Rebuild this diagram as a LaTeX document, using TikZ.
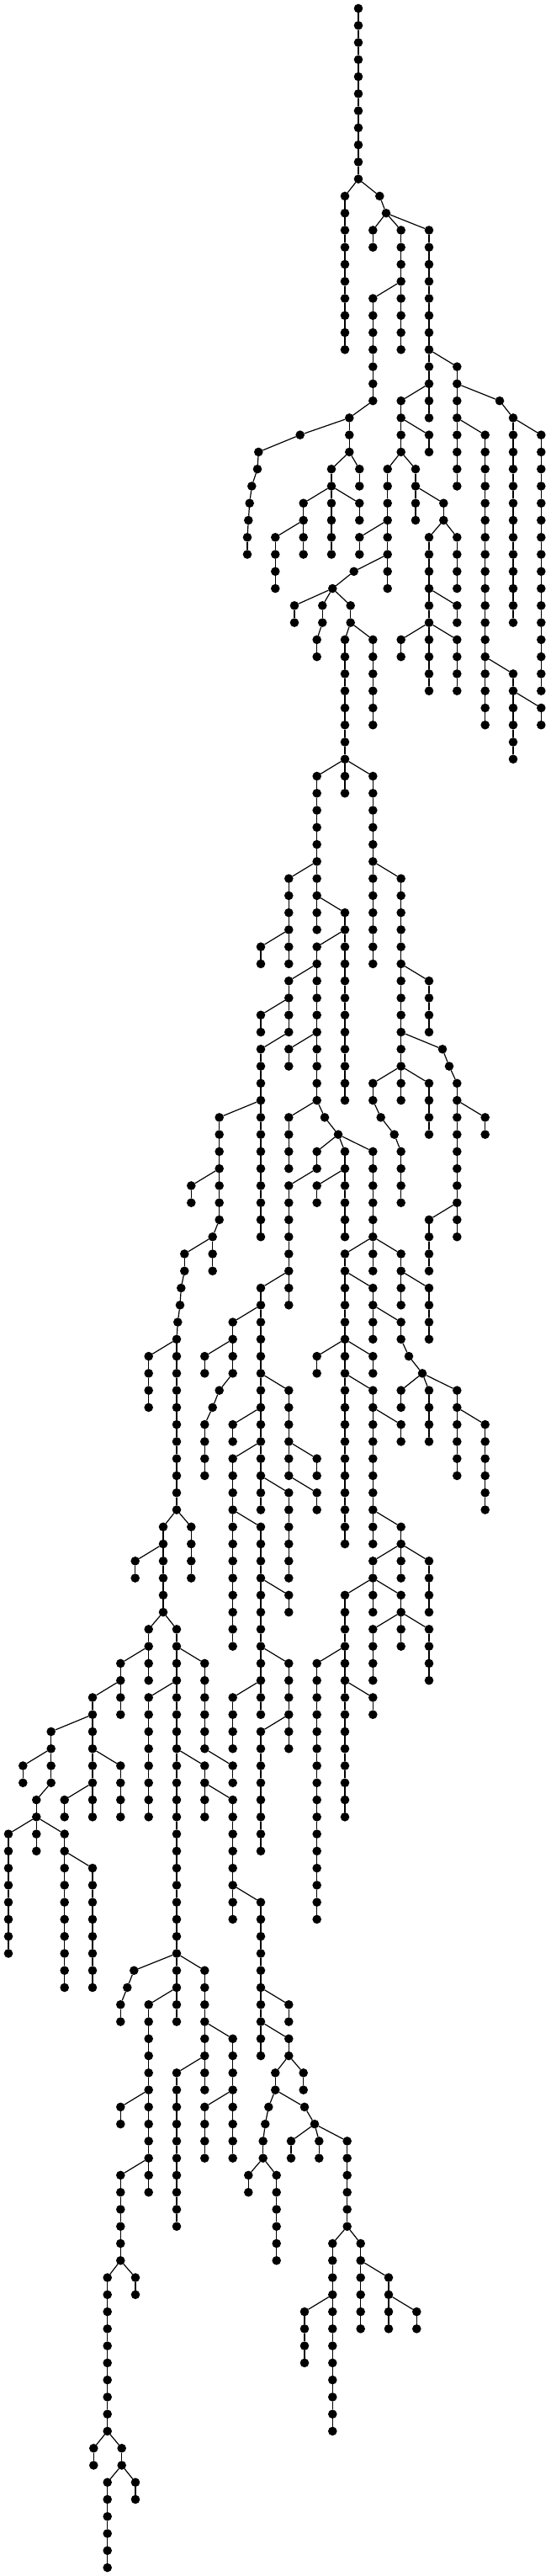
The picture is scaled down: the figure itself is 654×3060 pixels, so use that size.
\documentclass[tikz,border=0pt]{standalone}
\tikzset{
  vertex/.style={circle,fill=black,draw=none,inner sep=0pt,outer sep=0pt,minimum size=5.3pt},
  treeedge/.style={line width=0.6pt,black}
}
\begin{document}
\begin{tikzpicture}[x=0.5pt,y=-0.5pt]
    \useasboundingbox (0,0) rectangle (654,3060);
    \node[vertex] (a-0) at (426,10) {};
    % parent / branch / x / first row / last row
    \foreach \parent/\branch/\px/\rowa/\rowb in {
        a-0/a/426/1/10, a-10/b/410/11/20, a-10/c/451.3/11/11, c-11/d/459/12/12,
        d-12/e/443.3/13/14, d-12/f/476.7/13/20, d-12/g/510/13/24, f-16/h/443.3/17/23,
        g-20/i/543.3/21/28, h-23/k/415.3/24/26, k-24/l/356.7/25/25,
        l-25/m1/307.3/26/26, m1-26/m2/306/27/27, m2-27/m3/299.3/28/28, m3-28/m4/296.7/29/29,
        m4-29/m5/295.3/30/30, m5-30/m6/294/31/32,
        k-26/n/394/27/32, k-26/o/427.3/27/28, n-28/p/360.7/29/32, n-28/q/427.3/29/30,
        p-30/r/327.3/31/34, g-22/s/476.7/23/26, s-24/t/510/25/26, s-26/u/460.7/27/34,
        u-30/v/427.3/31/32, u-32/w/420.7/33/33, w-33/x/395.3/34/34, x-34/y/350/35/36,
        x-34/z/383.3/35/36, z-36/aa/376.7/37/38, x-34/ab/416.7/35/36, ab-36/ac/410/37/46,
        ab-36/ad/443.3/37/42, s-26/ae/494/27/30, ae-28/af/527.3/29/30, af-30/ag/510/31/40,
        af-30/ah/543.3/31/34, ag-34/ai/543.3/35/36, ag-36/aj/476.7/37/38, ag-36/ak/543.3/37/40,
        i-22/al/594/23/23, al-23/am/610/24/36, i-24/an/576.7/25/42, am-24/ao/643.3/25/40,
        an-38/ap/610/39/44, ap-40/aq/643.3/41/42,
        ac-44/ar/376.7/45/54, ac-44/as/443.3/45/56, ar-50/at/343.3/51/56, at-54/au/310/55/56,
        ar-52/av/410/53/64, av-54/aw/376.7/55/64, aw-56/ax/343.3/57/60, ax-58/ay/310/59/60,
        ax-60/az/310/61/72, aw-60/ba/343.3/61/62, as-50/bb/476.7/51/62, bb-56/bc/510/57/60,
        bb-60/bd/526/61/61, bd-61/be/534/62/62, be-62/bf/543.3/63/72, bf-64/bg/576.7/65/66,
        bb-62/bh/443.3/63/64, bh-64/bi/452.7/65/65, bi-65/bj/468.7/66/66, bj-66/bk/476.7/67/70,
        bb-62/bl/476.7/63/64, bb-62/bm/510/63/66, bf-70/bn/510/71/74,
        az-64/bo/260.7/65/71, bo-68/bp/227.3/69/70, bo-71/bq/252.7/72/74, bq-72/br/219.3/73/74,
        br-74/bs/215.3/75/75, bs-75/bt/214/76/76, bt-76/bu/211.3/77/77, bu-77/bv/210/78/88,
        bv-78/bw/176.7/79/82, aw-64/bx/343.3/65/68, aw-64/by/386/65/65, by-65/bz/402/66/66,
        bz-66/ca/376.7/67/68, ca-68/cb/343.3/69/76, cb-74/cc/310/75/88, cc-76/cd/276.7/77/80,
        cd-78/ce/243.3/79/80, cd-80/cf/260.7/81/81, cf-81/cg/252.7/82/82, cg-82/ch/243.3/83/86,
        cc-80/ci/343.3/81/86, cc-82/cj/276.7/83/84, cc-84/ck/276.7/85/96, cc-86/cl/343.3/87/92,
        ci-84/cm/376.7/85/86, ci-86/cn/376.7/87/88, bz-66/co/410/67/72, co-68/cp/376.7/69/70,
        bz-66/cq/443.3/67/74, cq-72/cr/410/73/90, cq-72/cs/476.7/73/76, cs-74/ct/510/75/78,
        cr-74/cu/443.3/75/78, cu-76/cv/476.7/77/78, cv-78/cw/486/79/79, cw-79/cx/502/80/80,
        cx-80/cy/476.7/81/82, cx-80/cz/510/81/84, cx-80/da/543.3/81/86, da-82/db/576.7/83/88,
        cr-78/dc/376.7/79/80, cr-78/dd/443.3/79/80, cr-80/de/443.3/81/90, de-82/df/476.7/83/84,
        de-88/dg/476.7/89/90, dg-90/dh/443.3/91/92, dg-90/di/476.7/91/92, dg-90/dj/510/91/94,
        dh-92/dk/410/93/106, dh-92/dl/443.3/93/94, dh-92/dm/476.7/93/94, dm-94/dn/443.3/95/98,
        dm-94/dno/476.7/95/96, dm-94/dp/510/95/98, dk-96/dq/376.7/97/112, dk-98/dr/443.3/99/100,
        bv-88/ds/194/89/94, bv-88/dt/227.3/89/92, ds-90/du/160.7/91/92, ds-94/dv/176.7/95/98,
        ds-94/dw/210/95/118, dv-96/dx/143.3/97/100, dx-98/dy/110/99/106, dy-100/dz/60.7/101/104,
        dz-102/ea/27.3/103/104, dz-104/eb/43.3/105/106, eb-106/ec/10/107/114, eb-106/ed/43.3/107/108,
        eb-106/ee/76.7/107/116, ee-108/ef/110/109/116, dy-102/eg/143.3/103/106, dy-104/eh/76.7/105/106,
        dw-96/ei/243.3/97/102, dw-98/ej/176.7/99/106, dw-102/ek/243.3/103/106, ei-102/el/276.7/103/104,
        ek-104/em/276.7/105/112, em-110/en/310/111/120,
        dw-114/eo/159.3/115/115, eo-115/ep/151.3/116/116, ep-116/eq/143.3/117/118, dw-114/er/243.3/115/122,
        dw-116/es/176.7/117/128, es-122/et/143.3/123/124, es-126/eu/143.3/127/132, er-118/ev/276.7/119/126,
        er-120/ew/210/121/130, ev-122/ex/243.3/123/126, eu-132/ey/127.7/133/142, eu-132/ez/161/133/134,
        ey-142/fa/111.3/143/144, ey-142/fb/144.7/143/144, fb-144/fc/127.7/145/150, fb-144/fd/161/145/146,
        en-116/fe/343.3/117/118, en-118/ff/343.3/119/120, ff-120/fg/327.3/121/122, ff-120/fh/360.7/121/122,
        fg-122/fi/319.3/123/123, fi-123/fj/315.3/124/124, fj-124/fk/312.7/125/126, fk-126/fl/295.3/127/128,
        fk-126/fm/328.7/127/132, fg-122/fn/362/123/123, fn-123/fo/374/124/124, fo-124/fp/346/125/126,
        fo-124/fq/379.3/125/126, fo-124/fr/412.7/125/130, fr-130/fs/395.3/131/142, fr-130/ft/428.7/131/136,
        fs-134/fu/362/135/138, ft-132/fv/462/133/136, fv-134/fw/495.3/135/136,
        ck-88/fx/310/89/100, fx-92/fy/343.3/93/94, fx-96/fz/343.3/97/102, fx-98/ga/276.7/99/102,
        fz-100/gb/310/101/108}
    {
        \foreach \row in {\rowa,...,\rowb}
        {
            \pgfmathtruncatemacro{\prevrow}{\row-1}
            \node[vertex] (\branch-\row) at (\px,{10+20.267*\row}) {};
            \ifnum\row=\rowa
                \draw[treeedge] (\parent) -- (\branch-\row);
            \else
                \draw[treeedge] (\branch-\prevrow) -- (\branch-\row);
            \fi
        }
    }
\end{tikzpicture}
\end{document}
